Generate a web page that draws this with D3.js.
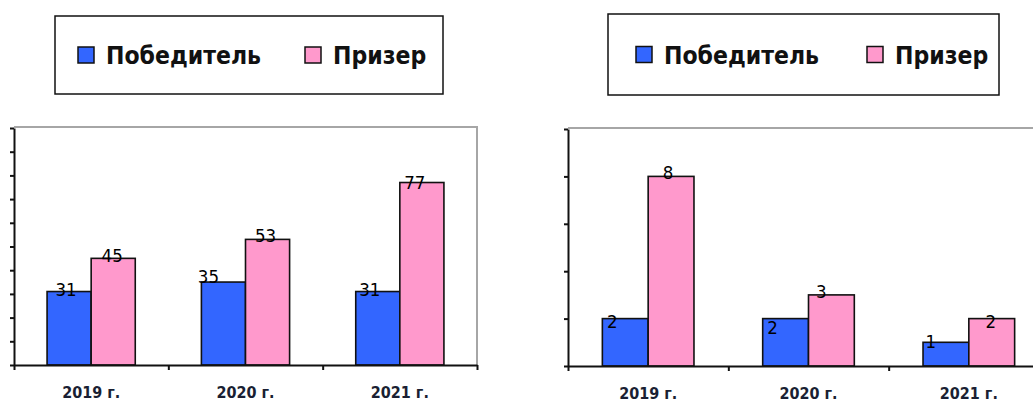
<!DOCTYPE html>
<html>
<head>
<meta charset="utf-8">
<script src="https://cdn.jsdelivr.net/npm/d3@7"></script>
<style>
  body { margin: 0; background: #fff; }
  svg { display: block; }
</style>
</head>
<body>
<svg></svg>
<script>
const categories = ["2019 г.", "2020 г.", "2021 г."];
const seriesNames = ["Победитель", "Призер"];

// left chart
const leftWinners = [31, 35, 31];
const leftPrize = [45, 53, 77];
// right chart
const rightWinners = [2, 2, 1];
const rightPrize = [8, 3, 2];

const Blue = "#3366FF";
const Pink = "#FF99CC";
const colors = [Blue, Pink];

const width = 1033;
const height = 403;
const svg = d3.select("svg").attr("width", width).attr("height", height);

const labelFont = "'DejaVu Sans Condensed', 'DejaVu Sans', sans-serif";

const drawChart = (opt) => {
  const g = svg.append("g");

  // outer band per category, inner band per series (gap width 150%)
  const x0 = d3.scaleBand().domain(categories).range([opt.left, opt.right]);
  const bw = x0.bandwidth() / 3.5;
  const x1 = d3
    .scaleBand()
    .domain(seriesNames)
    .range([bw * 0.75, bw * 0.75 + bw * 2]);
  const y = d3.scaleLinear().domain([0, opt.max]).range([opt.bottom, opt.top]);
  const xb = d3.scaleLinear().domain([0, 3]).range([opt.left, opt.right]);

  // grey plot border, top and right
  g.append("path")
    .attr("d", `M${opt.left},${opt.top - 1}H${opt.right}V${opt.bottom}`)
    .attr("fill", "none")
    .attr("stroke", "#a6a6a6")
    .attr("stroke-width", 2);

  const rows = categories.map((c, i) => ({
    cat: c,
    vals: [opt.winners[i], opt.prize[i]],
    nudge: [opt.nudgeW[i], opt.nudgeP[i]],
  }));

  const groups = g
    .selectAll(".grp")
    .data(rows)
    .enter()
    .append("g")
    .attr("transform", (d) => `translate(${x0(d.cat)},0)`);

  groups
    .selectAll("rect")
    .data((d) => d.vals.map((v, j) => ({ name: seriesNames[j], v: v })))
    .enter()
    .append("rect")
    .attr("x", (d) => x1(d.name))
    .attr("y", (d) => y(d.v))
    .attr("width", x1.bandwidth())
    .attr("height", (d) => y(0) - y(d.v))
    .attr("fill", (d, j) => colors[j])
    .attr("stroke", "#111")
    .attr("stroke-width", 1.6);

  groups
    .selectAll("text")
    .data((d) =>
      d.vals.map((v, j) => ({ name: seriesNames[j], v: v, n: d.nudge[j] }))
    )
    .enter()
    .append("text")
    .attr("x", (d) => x1(d.name) + x1.bandwidth() / 2 + d.n[0])
    .attr("y", (d) => y(d.v) + d.n[1])
    .attr("text-anchor", "middle")
    .attr("font-family", labelFont)
    .attr("font-size", "18.5px")
    .attr("fill", "#000")
    .text((d) => d.v);

  // y axis, no labels
  g.append("g")
    .attr("transform", `translate(${opt.left},0)`)
    .call(
      d3.axisLeft(y).ticks(opt.max / opt.step).tickSize(4).tickSizeOuter(0).tickFormat("")
    )
    .call((a) => a.selectAll("path,line").attr("stroke", "#111").attr("stroke-width", 2));

  // x axis line with ticks at category boundaries
  g.append("g")
    .attr("transform", `translate(0,${opt.bottom})`)
    .call(d3.axisBottom(xb).tickValues([0, 1, 2, 3]).tickSize(5).tickSizeOuter(0).tickFormat(""))
    .call((a) => a.selectAll("path,line").attr("stroke", "#111").attr("stroke-width", 2));

  // category labels
  g.append("g")
    .attr("transform", `translate(0,${opt.bottom})`)
    .call(d3.axisBottom(x0).tickSize(0).tickPadding(22))
    .call((a) => a.select(".domain").remove())
    .call((a) =>
      a.selectAll("text")
        .attr("font-family", labelFont)
        .attr("font-weight", "bold")
        .attr("font-size", "16px")
        .attr("fill", "#1a1f33")
    );

  // legend
  const lg = g.append("g");
  lg.append("rect")
    .attr("x", opt.legend.x)
    .attr("y", opt.legend.y)
    .attr("width", opt.legend.w)
    .attr("height", opt.legend.h)
    .attr("fill", "#fff")
    .attr("stroke", "#111")
    .attr("stroke-width", 1.5);

  seriesNames.forEach((name, j) => {
    const sx = opt.legend.items[j];
    const cy = opt.legend.y + opt.legend.h / 2;
    lg.append("rect")
      .attr("x", sx)
      .attr("y", cy - 8)
      .attr("width", 16)
      .attr("height", 16)
      .attr("fill", colors[j])
      .attr("stroke", "#111")
      .attr("stroke-width", 1.5);
    lg.append("text")
      .attr("x", sx + 28)
      .attr("y", cy + 9)
      .attr("font-family", labelFont)
      .attr("font-weight", "bold")
      .attr("font-size", "24.5px")
      .attr("fill", "#111")
      .text(name);
  });
};

drawChart({
  left: 14,
  right: 477,
  top: 128,
  bottom: 365,
  max: 100,
  step: 10,
  winners: leftWinners,
  prize: leftPrize,
  nudgeW: [[-3, 4], [-15, 1], [-8, 4.5]],
  nudgeP: [[-1, 3.5], [-2, 3], [-7, 6]],
  legend: { x: 55, y: 16, w: 388, h: 78, items: [78, 305] },
});

drawChart({
  left: 568,
  right: 1049,
  top: 129,
  bottom: 366,
  max: 10,
  step: 2,
  winners: rightWinners,
  prize: rightPrize,
  nudgeW: [[-13, 9], [-13, 15], [-15, 6]],
  nudgeP: [[-3, 3], [-10, 3], [-1, 9]],
  legend: { x: 608, y: 14, w: 391, h: 81, items: [636, 867] },
});
</script>
</body>
</html>
